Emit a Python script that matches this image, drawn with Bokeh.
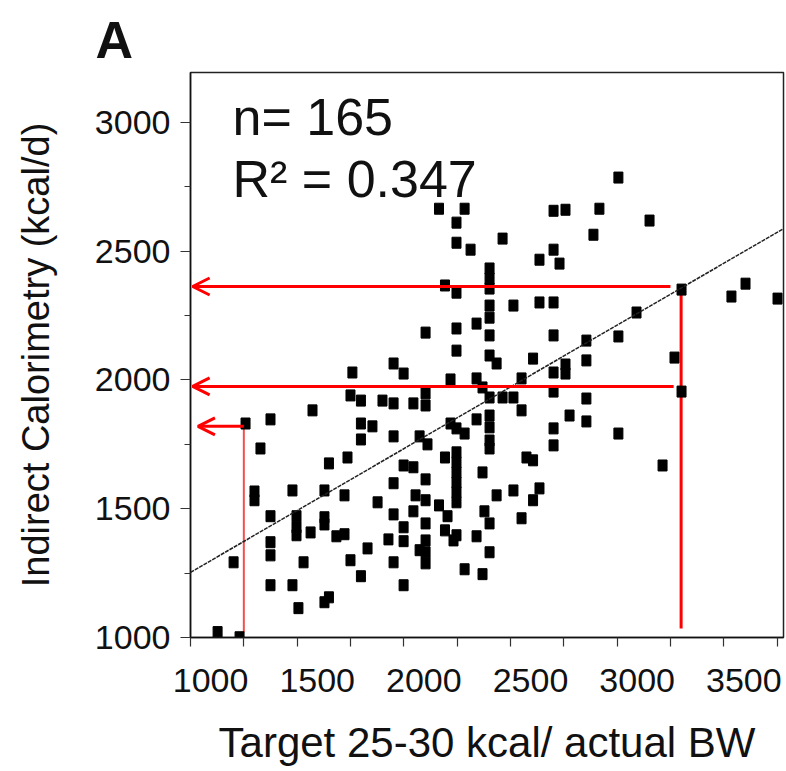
from bokeh.plotting import figure
from bokeh.models import Range1d, FixedTicker, Label, Arrow, OpenHead, Slope, LinearAxis
from bokeh.embed import file_html
from bokeh.resources import INLINE

# ---- data ----
target_kcal = [1127, 1230, 1202, 1258, 1300, 1300, 1328, 1375, 1375, 1375, 1375, 1375,
               1478, 1478, 1497, 1497, 1497, 1506, 1530, 1563, 1572, 1628, 1628, 1628,
               1628, 1649, 1649, 1684, 1722, 1722, 1736, 1750, 1750, 1759, 1799, 1799,
               1853, 1799, 1799, 1830, 1877, 1900, 1928, 1952, 1952, 1952, 1952, 1952,
               1952, 1999, 1999, 1999, 1999, 1999, 2045, 2045, 2045, 2055, 2074, 2074,
               2102, 2102, 2102, 2102, 2102, 2102, 2102, 2102, 2102, 2111, 2165, 2165,
               2193, 2193, 2193, 2205, 2219, 2219, 2233, 2247, 2247, 2247, 2247, 2247,
               2247, 2247, 2247, 2247, 2247, 2247, 2247, 2247, 2285, 2285, 2285, 2313,
               2341, 2341, 2341, 2341, 2369, 2369, 2369, 2378, 2402, 2402, 2402, 2402,
               2402, 2402, 2402, 2402, 2402, 2402, 2402, 2402, 2402, 2402, 2435, 2435,
               2463, 2463, 2514, 2514, 2514, 2552, 2552, 2552, 2575, 2606, 2606, 2606,
               2636, 2636, 2636, 2702, 2702, 2702, 2702, 2702, 2702, 2702, 2702, 2730,
               2758, 2758, 2758, 2777, 2856, 2856, 2856, 2856, 2889, 2917, 3006, 3006,
               3006, 3091, 3152, 3213, 3269, 3302, 3302, 3536, 3602, 3752]
measured_kcal = [1021, 1001, 1292, 1831, 1567, 1533, 1734, 1847, 1471, 1370, 1319, 1203,
                 1571, 1203, 1471, 1428, 1397, 1114, 1292, 1408, 1882, 1571, 1467, 1439,
                 1137, 1156, 1676, 1393, 1552, 1401, 1699, 1300, 1940, 2029, 1920, 1831,
                 1820, 1769, 1238, 1346, 1525, 1920, 1381, 1909, 1781, 1599, 1478, 1292,
                 2064, 2025, 1668, 1428, 1374, 1203, 1909, 1661, 1490, 1552, 1781, 1339,
                 1948, 1901, 2184, 1614, 1533, 1443, 1377, 1331, 1288, 1750, 2665, 1513,
                 2367, 1699, 1416, 1471, 2002, 1831, 1377, 2611, 2533, 2339, 2200, 2114,
                 1812, 1397, 1719, 1680, 1641, 1602, 1564, 1525, 2665, 1792, 1265, 2506,
                 2219, 2006, 1847, 1393, 1971, 1641, 1246, 1490, 2433, 2394, 2355, 2289,
                 2242, 2173, 2095, 1932, 1862, 1816, 1765, 1734, 1443, 1331, 2064, 1552,
                 2549, 1932, 2289, 1932, 1571, 2006, 1882, 1463, 1699, 1533, 2083, 1688,
                 2467, 2301, 1579, 2657, 2506, 2301, 2173, 2029, 1955, 1812, 1746, 2452,
                 2661, 2060, 2025, 1862, 2153, 2076, 1928, 1839, 2564, 2665, 2786, 2169,
                 1792, 2262, 2619, 1668, 2087, 2351, 1955, 2324, 2374, 2316]

fit_intercept = 773
fit_slope = 0.48

x_ticks = [1000, 1500, 2000, 2500, 3000, 3500]
x_minor_ticks = [1250, 1750, 2250, 2750, 3250, 3750]
y_ticks = [1000, 1500, 2000, 2500, 3000]
y_minor_ticks = [1250, 1750, 2250, 2750]

# red guide lines (vertical) and arrows (horizontal)
guide_x = [3300, 1250]
guide_y_bottom = [1035, 1020]
guide_y_top = [2345, 1820]
arrow_y = [2363, 1975, 1820]
arrow_x_start = [3250, 3265, 1250]
arrow_x_end = [1010, 1010, 1035]

FONT = "Liberation Sans"
X_LO, X_HI = 1000, 3780
LABEL_SHIFT = 94  # x tick labels sit a little right of their ticks in the reference

p = figure(width=785, height=771,
           x_range=Range1d(X_LO, X_HI), y_range=Range1d(1000, 3194),
           output_backend="svg", toolbar_location=None,
           min_border_left=190, min_border_right=2,
           min_border_top=72, min_border_bottom=134,
           title="A")

p.title.text_font = FONT
p.title.text_font_style = "bold"
p.title.text_font_size = "52px"
p.title.text_color = "#111111"
p.title.align = "left"
p.title.offset = -95
p.title.vertical_align = "top"
p.title.standoff = 4

p.xgrid.grid_line_color = None
p.ygrid.grid_line_color = None
p.outline_line_color = "#222222"
p.outline_line_width = 1.5
p.background_fill_color = "white"
p.border_fill_color = "white"

# label-only x axis on a range shifted by a few pixels
p.extra_x_ranges = {"labels": Range1d(X_LO - LABEL_SHIFT, X_HI - LABEL_SHIFT)}
xlab = LinearAxis(x_range_name="labels")
p.add_layout(xlab, "below")

for ax in (p.xaxis[0], p.yaxis[0], xlab):
    ax.axis_line_color = "#111111"
    ax.axis_line_width = 1.5
    ax.major_tick_line_color = "#333333"
    ax.minor_tick_line_color = "#333333"
    ax.major_tick_line_width = 1.2
    ax.minor_tick_line_width = 1.2
    ax.major_tick_in = 0
    ax.major_tick_out = 10
    ax.minor_tick_in = 0
    ax.minor_tick_out = 6
    ax.major_label_text_font = FONT
    ax.major_label_text_font_size = "34px"
    ax.major_label_text_color = "#111111"
    ax.axis_label_text_font = FONT
    ax.axis_label_text_font_style = "normal"
    ax.axis_label_text_color = "#111111"

# tick-mark-only x axis (all marks drawn as minor ticks, so no label texts)
p.xaxis[0].ticker = FixedTicker(ticks=[], minor_ticks=x_ticks + x_minor_ticks)
p.xaxis[0].minor_tick_out = 9

xlab.ticker = FixedTicker(ticks=x_ticks, minor_ticks=[])
xlab.axis_line_color = None
xlab.major_tick_line_color = None
xlab.minor_tick_line_color = None
xlab.major_tick_out = 0
xlab.minor_tick_out = 0
xlab.major_label_standoff = 22
xlab.axis_label = "Target 25-30 kcal/ actual BW"
xlab.axis_label_text_font_size = "42px"
xlab.axis_label_standoff = 24

p.yaxis.ticker = FixedTicker(ticks=y_ticks, minor_ticks=y_minor_ticks)
p.yaxis.major_label_standoff = 10
p.yaxis.axis_label = "Indirect Calorimetry (kcal/d)"
p.yaxis.axis_label_text_font_size = "38px"
p.yaxis.axis_label_standoff = 35

# regression line
p.add_layout(Slope(gradient=fit_slope, y_intercept=fit_intercept,
                   line_color="#222222", line_width=1.5, line_dash="4 1"))

# red guides
p.segment(x0=guide_x, y0=guide_y_bottom, x1=guide_x, y1=guide_y_top,
          line_color=["#ff0000", "#f03030"], line_width=[3, 2], line_alpha=[1.0, 0.85])
for xs, xe, yy in zip(arrow_x_start, arrow_x_end, arrow_y):
    p.add_layout(Arrow(end=OpenHead(size=17, line_color="#ff0000", line_width=3),
                       x_start=xs, y_start=yy, x_end=xe, y_end=yy,
                       line_color="#ff0000", line_width=3))

# data points
p.rect(x=target_kcal, y=measured_kcal, width=9, height=11,
       width_units="screen", height_units="screen",
       fill_color="black", line_color="black")

# annotations
p.add_layout(Label(x=1197, y=2910, text="n= 165", text_font=FONT,
                   text_font_size="52px", text_color="#111111"))
p.add_layout(Label(x=1197, y=2669, text="R\u00b2 = 0.347", text_font=FONT,
                   text_font_size="52px", text_color="#111111"))

open("out.html", "w").write(file_html(p, INLINE))
